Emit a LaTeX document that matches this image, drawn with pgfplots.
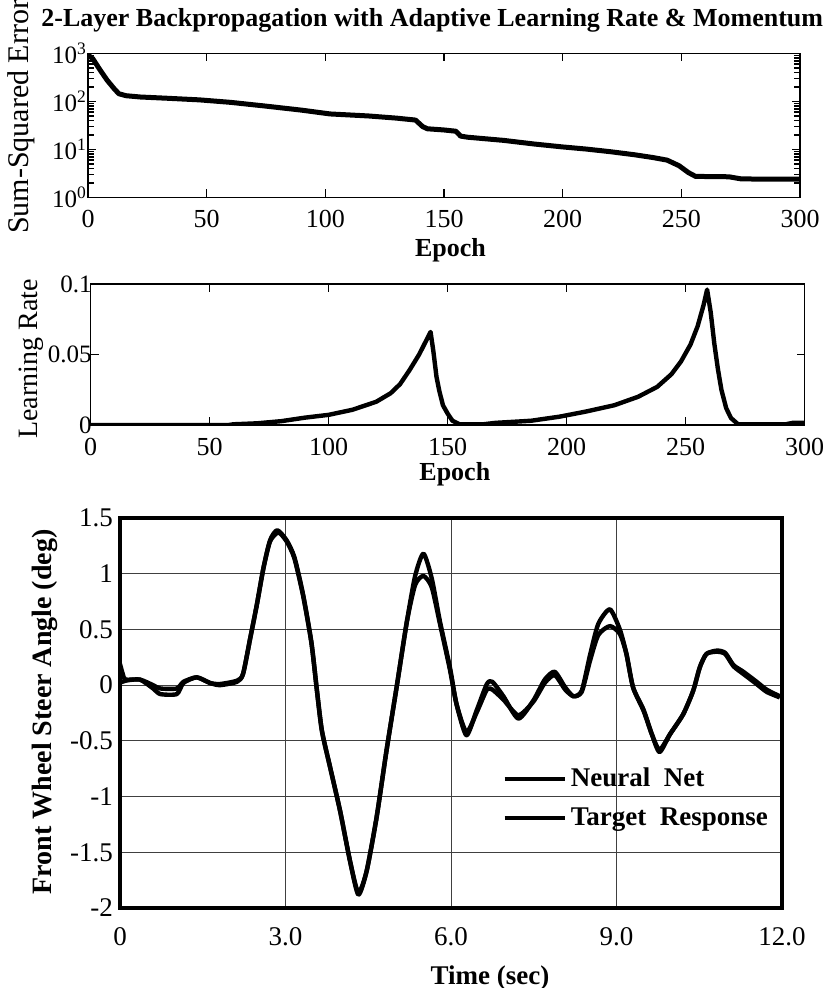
\documentclass[border=0pt]{standalone}
\usepackage{fontspec}
\setmainfont{Liberation Serif}
\usepackage{pgfplots}
\pgfplotsset{compat=1.18}

\begin{document}
\begin{tikzpicture}
\path[use as bounding box] (0pt,0pt) rectangle (416pt,494pt);

% --- top: training error (log) ---
\begin{axis}[
    at={(44pt,395.25pt)}, anchor=south west,
    scale only axis, width=356pt, height=72pt,
    ymode=log, xmin=0, xmax=300, ymin=1, ymax=1000,
    xtick={0,50,...,300},
    ytick={1,10,100,1000},
    yticklabels={10\textsuperscript{0},10\textsuperscript{1},10\textsuperscript{2},10\textsuperscript{3}},
    /pgf/number format/assume math mode=true,
    axis line style={line width=0.75pt},
    tick style={black, line width=0.8pt},
    major tick length=4pt, minor tick length=3pt,
    xticklabel style={font=\fontsize{13}{15}\selectfont, yshift=-3pt},
    yticklabel style={font=\fontsize{12.5}{15}\selectfont, xshift=3pt},
    title={\bfseries 2-Layer Backpropagation with Adaptive Learning Rate \& Momentum},
    title style={at={(axis description cs:0.4835,1)}, anchor=base, yshift=7.25pt,
        font=\fontsize{13}{15}\selectfont},
    xlabel={\bfseries Epoch},
    xlabel style={at={(axis description cs:0.509,0)}, anchor=base, yshift=-29.75pt,
        font=\fontsize{13}{15}\selectfont},
    ylabel={Sum-Squared Error},
    ylabel style={at={(axis description cs:-0.093,0.56)}, anchor=center,
        font=\fontsize{15}{17}\selectfont},
]
\addplot[black, line width=2.5pt, line join=round] coordinates {
    (0,930) (2,780) (5,460) (8,280) (11,185) (13,145) (16,132) (22,124)
    (33,117) (47,108) (60,96) (75,80) (90,66) (102,55) (118,50) (130,45)
    (138,41) (141,30) (143,27) (150,25.5) (155,24) (157,19) (160,18)
    (175,15.5) (188,13) (200,11.3) (210,10.2) (220,9.0) (230,7.8) (238,6.8)
    (244,6.0) (249,4.6) (253,3.3) (256,2.75) (270,2.7) (275,2.45) (285,2.4)
    (300,2.4)
};
\end{axis}

% --- middle: learning rate ---
\begin{axis}[
    at={(45.35pt,281.5pt)}, anchor=south west,
    scale only axis, width=357pt, height=70.5pt,
    xmin=0, xmax=300, ymin=0, ymax=0.1,
    xtick={0,50,...,300},
    ytick={0,0.05,0.1},
    yticklabels={0,0.05,0.1},
    /pgf/number format/assume math mode=true,
    axis line style={line width=0.6pt},
    tick style={black, line width=0.6pt},
    major tick length=4pt,
    xticklabel style={font=\fontsize{13}{15}\selectfont, yshift=-3pt},
    yticklabel style={font=\fontsize{12.5}{15}\selectfont, xshift=4pt},
    xlabel={\bfseries Epoch},
    xlabel style={at={(axis description cs:0.51,0)}, anchor=base, yshift=-28pt,
        font=\fontsize{13}{15}\selectfont},
    ylabel={Learning Rate},
    ylabel style={at={(axis description cs:-0.083,0.468)}, anchor=center,
        font=\fontsize{14}{16}\selectfont},
]
\addplot[black, line width=2.2pt, line join=round] coordinates {
    (0,0) (58,0) (60,0.0005) (70,0.0012) (80,0.0027) (90,0.0052) (100,0.0072)
    (110,0.0108) (120,0.0165) (126,0.0225) (130,0.029) (134,0.039)
    (138,0.050) (141,0.060) (142.8,0.066) (144,0.052) (145.3,0.034)
    (146.5,0.024) (148,0.014) (150,0.008) (152,0.003) (155,0.0005)
    (165,0.0005) (170,0.0015) (185,0.003) (197,0.0059) (208,0.0095)
    (220,0.014) (230,0.020) (238,0.027) (244,0.036) (248,0.045) (252,0.057)
    (255,0.070) (257.5,0.085) (259,0.096) (260.5,0.080) (262,0.058)
    (263.5,0.040) (265,0.025) (267,0.012) (269,0.005) (272,0.0005)
    (292,0.0005) (295,0.0015) (300,0.0015)
};
\end{axis}

% --- bottom: steer angle ---
\begin{axis}[
    at={(60pt,40pt)}, anchor=south west,
    scale only axis, width=331pt, height=195pt,
    xmin=0, xmax=12, ymin=-2, ymax=1.5,
    xtick={0,3,6,9,12},
    xticklabels={0,3.0,6.0,9.0,12.0},
    ytick={-2,-1.5,-1,-0.5,0,0.5,1,1.5},
    yticklabels={-2,-1.5,-1,-0.5,0,0.5,1,1.5},
    /pgf/number format/assume math mode=true,
    axis line style={line width=2pt},
    major tick length=0pt,
    grid=major,
    major grid style={black!75, line width=0.45pt},
    xticklabel style={font=\fontsize{13.5}{16}\selectfont, yshift=-6pt},
    yticklabel style={font=\fontsize{13.5}{16}\selectfont},
    xlabel={\bfseries Time (sec)},
    xlabel style={at={(axis description cs:0.559,0)}, anchor=base, yshift=-38pt,
        font=\fontsize{13.5}{16}\selectfont},
    ylabel={\bfseries Front Wheel Steer Angle (deg)},
    ylabel style={at={(axis description cs:-0.113,0.503)}, anchor=center,
        font=\fontsize{14}{16}\selectfont},
    legend style={at={(axis description cs:0.577,0.37)}, anchor=north west,
        draw=none, fill=none, inner sep=0pt, row sep=5pt,
        font=\bfseries\fontsize{13.5}{16}\selectfont},
    legend cell align=left,
    legend image code/.code={\draw[black, line width=2.2pt] (0pt,0pt) -- (30pt,0pt);},
]
\addplot[black, line width=2.2pt, smooth, tension=0.4, line join=round] coordinates {
    (0.00,0.19) (0.05,0.10) (0.10,0.05) (0.36,0.05) (0.60,0.00) (0.73,-0.03)
    (1.03,-0.03) (1.15,0.03) (1.39,0.07) (1.63,0.02) (1.81,0.01) (2.12,0.04)
    (2.23,0.10) (2.36,0.42) (2.48,0.72) (2.60,1.05) (2.72,1.30) (2.85,1.39)
    (3.02,1.30) (3.16,1.15) (3.32,0.81) (3.47,0.38) (3.57,-0.05) (3.66,-0.41)
    (3.81,-0.74) (3.99,-1.13) (4.17,-1.58) (4.32,-1.88) (4.47,-1.67)
    (4.65,-1.19) (4.83,-0.59) (5.02,0.00) (5.20,0.57) (5.35,0.98) (5.50,1.18)
    (5.65,0.96) (5.80,0.57) (5.98,0.16) (6.10,-0.17) (6.28,-0.45) (6.47,-0.22)
    (6.65,0.01) (6.75,0.03) (6.95,-0.10) (7.22,-0.30) (7.49,-0.14) (7.70,0.05)
    (7.88,0.12) (8.07,-0.02) (8.22,-0.10) (8.37,-0.05) (8.52,0.27) (8.67,0.55)
    (8.88,0.68) (9.06,0.50) (9.18,0.28) (9.30,-0.02) (9.49,-0.22) (9.64,-0.44)
    (9.78,-0.60) (9.97,-0.44) (10.21,-0.26) (10.39,-0.05) (10.51,0.16)
    (10.63,0.28) (10.82,0.31) (10.97,0.29) (11.12,0.18) (11.30,0.12)
    (11.54,0.03) (11.72,-0.04) (11.96,-0.10)
};
\addlegendentry{Neural\ \ Net}
\addplot[black, line width=2.2pt, smooth, tension=0.4, line join=round] coordinates {
    (0.00,0.02) (0.10,0.04) (0.36,0.05) (0.60,-0.03) (0.73,-0.08) (1.03,-0.08)
    (1.15,0.02) (1.39,0.07) (1.63,0.02) (1.81,0.00) (2.12,0.03) (2.23,0.10)
    (2.36,0.42) (2.48,0.72) (2.60,1.05) (2.72,1.29) (2.87,1.37) (3.02,1.29)
    (3.16,1.14) (3.32,0.80) (3.47,0.38) (3.57,-0.05) (3.66,-0.41) (3.81,-0.74)
    (3.99,-1.13) (4.17,-1.58) (4.32,-1.86) (4.47,-1.67) (4.65,-1.19)
    (4.83,-0.59) (5.02,0.00) (5.20,0.57) (5.35,0.90) (5.50,0.98) (5.65,0.88)
    (5.80,0.55) (5.98,0.14) (6.10,-0.17) (6.28,-0.42) (6.47,-0.24) (6.65,-0.04)
    (6.75,-0.04) (6.95,-0.13) (7.22,-0.27) (7.49,-0.15) (7.70,0.02) (7.88,0.09)
    (8.07,-0.04) (8.22,-0.10) (8.37,-0.06) (8.52,0.22) (8.67,0.45) (8.88,0.53)
    (9.06,0.46) (9.18,0.28) (9.30,-0.02) (9.49,-0.23) (9.64,-0.44) (9.78,-0.58)
    (9.97,-0.44) (10.21,-0.26) (10.39,-0.05) (10.51,0.16) (10.63,0.28)
    (10.82,0.30) (10.97,0.28) (11.12,0.17) (11.30,0.10) (11.54,0.01)
    (11.72,-0.06) (11.96,-0.11)
};
\addlegendentry{Target\ \ Response}
\end{axis}
\end{tikzpicture}
\end{document}
